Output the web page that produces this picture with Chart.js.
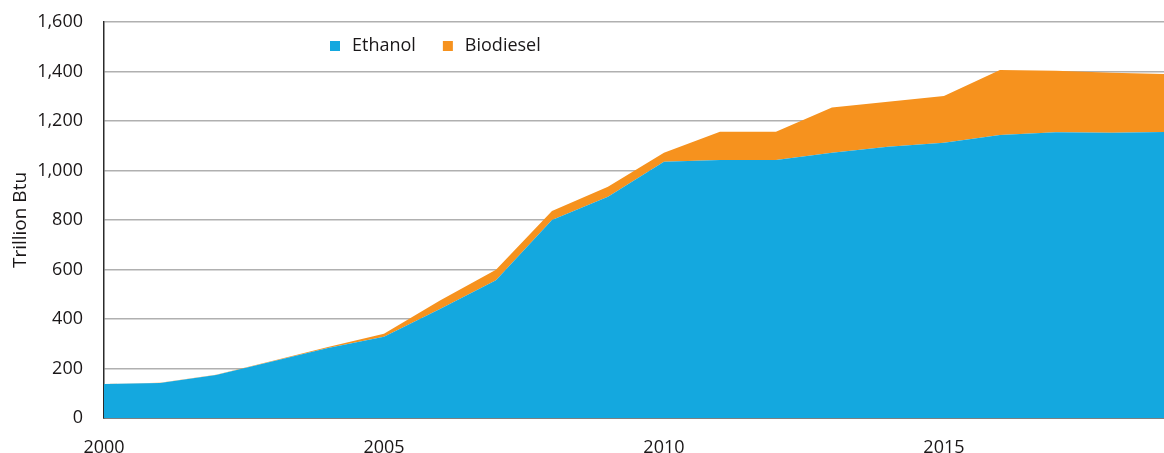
<!DOCTYPE html>
<html>
<head>
<meta charset="utf-8">
<script src="https://cdn.jsdelivr.net/npm/chart.js@4.4.1/dist/chart.umd.min.js"></script>
<style>
html,body{margin:0;padding:0;background:#fff;}
#wrap{width:1164px;height:453px;position:relative;}
</style>
</head>
<body>
<div id="wrap"><canvas id="c" width="1164" height="453"></canvas></div>
<script>
const years = [2000,2001,2002,2003,2004,2005,2006,2007,2008,2009,2010,2011,2012,2013,2014,2015,2016,2017,2018,2019];
const ethanol = [137,141,174,228,283,328,440,557,800,894,1035,1042,1042,1072,1096,1112,1143,1155,1153,1156];
const biodiesel = [0,1,1,2,4,12,35,42,36,40,37,115,115,183,182,189,263,248,242,234];
const yTicks = [0,200,400,600,800,1000,1200,1400,1600];
const xTicks = [2000,2005,2010,2015];

const FONT = "'Open Sans', 'Liberation Sans', sans-serif";
const TXT = '#1a1718';

// legend drawn inside the plot area, using the chart's own dataset labels/colours
const innerLegend = {
  id: 'innerLegend',
  afterDraw(chart) {
    const ctx = chart.ctx;
    ctx.save();
    ctx.font = "18px " + FONT;
    ctx.textBaseline = 'middle';
    ctx.textAlign = 'left';
    let x = 330;
    const yc = 46;
    chart.data.datasets.forEach(ds => {
      ctx.fillStyle = ds.backgroundColor;
      ctx.fillRect(x, yc - 5, 10, 10);
      ctx.fillStyle = TXT;
      ctx.fillText(ds.label, x + 22, yc);
      x += 22 + ctx.measureText(ds.label).width + 27;
    });
    ctx.restore();
  }
};

new Chart(document.getElementById('c'), {
  type: 'line',
  data: {
    datasets: [
      {
        label: 'Ethanol',
        data: years.map((y, i) => ({x: y, y: ethanol[i]})),
        backgroundColor: '#14a8df',
        borderColor: '#14a8df',
        borderWidth: 0,
        pointRadius: 0,
        fill: 'origin',
        tension: 0
      },
      {
        label: 'Biodiesel',
        data: years.map((y, i) => ({x: y, y: biodiesel[i]})),
        backgroundColor: '#f6921e',
        borderColor: '#f6921e',
        borderWidth: 0,
        pointRadius: 0,
        fill: '-1',
        tension: 0
      }
    ]
  },
  options: {
    responsive: false,
    animation: false,
    layout: { padding: { top: 22, right: 0, bottom: 0, left: 0 } },
    plugins: {
      tooltip: { enabled: false },
      legend: { display: false }
    },
    scales: {
      x: {
        type: 'linear',
        min: 2000,
        max: 2018.93,
        afterFit(s) { s.height = 35; s.paddingLeft = 0; s.paddingRight = 0; },
        afterBuildTicks(s) { s.ticks = xTicks.map(v => ({value: v})); },
        grid: { display: false, drawTicks: false },
        border: { display: true, color: '#2b2b2b', width: 1.5 },
        ticks: {
          includeBounds: false,
          autoSkip: false,
          maxRotation: 0,
          padding: 19,
          color: TXT,
          font: { family: FONT, size: 18 },
          callback: v => String(v)
        }
      },
      y: {
        stacked: true,
        min: 0,
        max: 1600,
        afterFit(s) { s.width = 104; s.paddingTop = 0; s.paddingBottom = 0; },
        afterBuildTicks(s) { s.ticks = yTicks.map(v => ({value: v})); },
        grid: { color: '#b0b0b0', lineWidth: 1.5, drawTicks: false },
        border: { display: true, color: '#2b2b2b', width: 1.5 },
        ticks: {
          padding: 21,
          color: TXT,
          font: { family: FONT, size: 18 },
          callback: v => v.toLocaleString('en-US')
        },
        title: {
          display: true,
          text: 'Trillion Btu',
          color: TXT,
          font: { family: FONT, size: 19 },
          padding: { top: 9, bottom: 0 }
        }
      }
    }
  },
  plugins: [innerLegend]
});
</script>
</body>
</html>
